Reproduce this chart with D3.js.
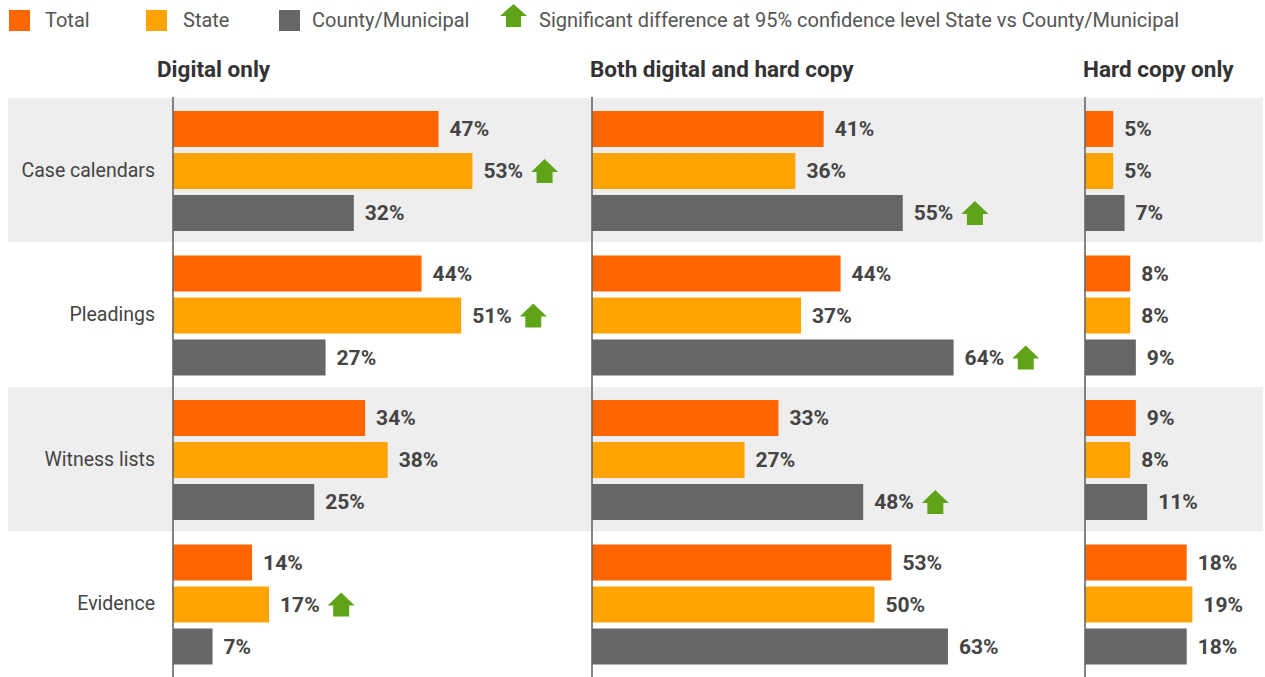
<!DOCTYPE html>
<html>
<head>
<meta charset="utf-8">
<script src="https://cdn.jsdelivr.net/npm/d3@7"></script>
<style>
  html, body { margin: 0; padding: 0; background: #fff; }
  svg { display: block; font-family: Roboto, "Noto Sans", sans-serif; }
</style>
</head>
<body>
<div id="chart"></div>
<script>
// ── Data ──
const categories = ["Case calendars", "Pleadings", "Witness lists", "Evidence"];
const series = ["Total", "State", "County/Municipal"];
const panels = ["Digital only", "Both digital and hard copy", "Hard copy only"];

const digitalTotal = [47, 44, 34, 14];
const digitalState = [53, 51, 38, 17];
const digitalCounty = [32, 27, 25, 7];

const bothTotal = [41, 44, 33, 53];
const bothState = [36, 37, 27, 50];
const bothCounty = [55, 64, 48, 63];

const hardTotal = [5, 8, 9, 18];
const hardState = [5, 8, 8, 19];
const hardCounty = [7, 9, 11, 18];

// significant difference flags: [panel, series, category]
const significant = [
  ["Digital only", "State", "Case calendars"],
  ["Digital only", "State", "Pleadings"],
  ["Digital only", "State", "Evidence"],
  ["Both digital and hard copy", "County/Municipal", "Case calendars"],
  ["Both digital and hard copy", "County/Municipal", "Pleadings"],
  ["Both digital and hard copy", "County/Municipal", "Witness lists"],
];

const panelValues = {
  "Digital only": [digitalTotal, digitalState, digitalCounty],
  "Both digital and hard copy": [bothTotal, bothState, bothCounty],
  "Hard copy only": [hardTotal, hardState, hardCounty],
};

const legendNote = "Significant difference at 95% confidence level State vs County/Municipal";

// ── Layout ──
const width = 1265, height = 677;
const colors = { "Total": "#ff6600", "State": "#ffa300", "County/Municipal": "#666666" };
const panelStart = { "Digital only": 173, "Both digital and hard copy": 592, "Hard copy only": 1085 };
const titleOffset = { "Digital only": -16, "Both digital and hard copy": -2, "Hard copy only": -2 };
const textColor = "#444";
const green = "#5fa319";

const svg = d3.select("#chart").append("svg")
  .attr("width", width)
  .attr("height", height);

// value → pixel length (shared by all panels)
const x = d3.scaleLinear().domain([0, 100]).range([0, 565]);

const y = d3.scaleBand().domain(categories).range([98, 676]);
const yInner = d3.scaleBand().domain(series).range([13, 133]).paddingInner(0.143);

// arrow path, origin at top-centre
function arrowPath(w, h, stemW, headH) {
  const hw = w / 2, sw = stemW / 2;
  return `M0,0 L${hw},${headH} L${sw},${headH} L${sw},${h} L${-sw},${h} L${-sw},${headH} L${-hw},${headH} Z`;
}

// ── Row backgrounds ──
svg.append("g").selectAll("rect")
  .data(categories)
  .join("rect")
  .attr("x", 8)
  .attr("y", (d) => y(d))
  .attr("width", 1255)
  .attr("height", y.bandwidth())
  .attr("fill", (d, i) => (i % 2 === 0 ? "#eeeeee" : "#ffffff"));

// ── Legend ──
const legend = svg.append("g");
const legendX = [9, 146, 279];
const legendTextX = [45, 183, 312];
series.forEach((s, i) => {
  legend.append("rect")
    .attr("x", legendX[i]).attr("y", 10)
    .attr("width", 21).attr("height", 21)
    .attr("fill", colors[s]);
  legend.append("text")
    .attr("x", legendTextX[i]).attr("y", 27)
    .attr("fill", "#555").attr("font-size", "20px")
    .text(s);
});
legend.append("path")
  .attr("transform", "translate(513.5,4)")
  .attr("d", arrowPath(27, 23, 15, 12))
  .attr("fill", green);
legend.append("text")
  .attr("x", 539).attr("y", 27)
  .attr("fill", "#555").attr("font-size", "20px")
  .text(legendNote);

// ── Category labels ──
svg.append("g").selectAll("text")
  .data(categories)
  .join("text")
  .attr("x", 155)
  .attr("y", (d) => y(d) + yInner("State") + yInner.bandwidth() / 2)
  .attr("dy", "0.3em")
  .attr("text-anchor", "end")
  .attr("fill", textColor)
  .attr("font-size", "19.5px")
  .text((d) => d);

// ── Panels ──
panels.forEach((p) => {
  const x0 = panelStart[p];
  const g = svg.append("g").attr("transform", `translate(${x0},0)`);

  g.append("text")
    .attr("x", titleOffset[p]).attr("y", 77)
    .attr("fill", "#333")
    .attr("font-size", "22.5px")
    .attr("font-weight", "700")
    .text(p);

  const rows = [];
  categories.forEach((c, ci) => {
    series.forEach((s, si) => {
      rows.push({ cat: c, series: s, value: panelValues[p][si][ci] });
    });
  });

  g.selectAll(".bar")
    .data(rows)
    .join("rect")
    .attr("class", "bar")
    .attr("x", 0)
    .attr("y", (d) => y(d.cat) + yInner(d.series))
    .attr("width", (d) => x(d.value))
    .attr("height", yInner.bandwidth())
    .attr("fill", (d) => colors[d.series]);

  const labels = g.selectAll(".val")
    .data(rows)
    .join("text")
    .attr("class", "val")
    .attr("x", (d) => x(d.value) + 11)
    .attr("y", (d) => y(d.cat) + yInner(d.series) + yInner.bandwidth() / 2)
    .attr("dy", "0.35em")
    .attr("fill", textColor)
    .attr("font-size", "21px")
    .attr("font-weight", "700")
    .text((d) => d.value + "%");

  labels.each(function (d) {
    const sig = significant.some((f) => f[0] === p && f[1] === d.series && f[2] === d.cat);
    if (!sig) return;
    const tw = this.getComputedTextLength();
    const cx = x(d.value) + 11 + tw + 8 + 13.5;
    const cy = y(d.cat) + yInner(d.series) + yInner.bandwidth() / 2 - 12;
    g.append("path")
      .attr("transform", `translate(${cx},${cy})`)
      .attr("d", arrowPath(27, 24, 16, 13))
      .attr("fill", green);
  });

  // axis line
  g.append("line")
    .attr("x1", 0).attr("x2", 0)
    .attr("y1", 97).attr("y2", height)
    .attr("stroke", "#666")
    .attr("stroke-width", 1.6);
});
</script>
</body>
</html>
